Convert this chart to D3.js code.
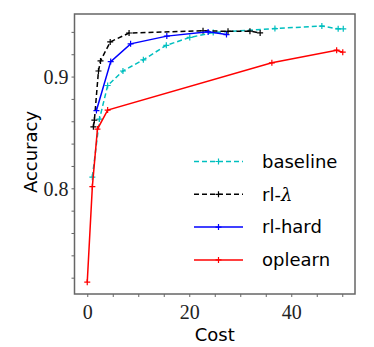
<!DOCTYPE html>
<html>
<meta charset="utf-8">
<style>
  body { margin: 0; background: #fff; }
</style>
<script src="https://d3js.org/d3.v7.min.js"></script>
<body>
<div id="chart"></div>
<script>

// data: [cost, accuracy]
var baseline = [
  [1.0, 0.810], [2.4, 0.862], [4.0, 0.892], [7.0, 0.905], [11.0, 0.915],
  [15.5, 0.928], [20.1, 0.935], [24.7, 0.9394], [36.8, 0.943],
  [46.0, 0.9452], [49.2, 0.9427], [50.2, 0.9427]
];
var rlLambda = [
  [1.2, 0.855], [1.4, 0.861], [2.2, 0.905], [2.6, 0.914], [4.5, 0.931],
  [8.2, 0.939], [22.7, 0.941], [27.6, 0.9405], [31.9, 0.9406], [33.9, 0.9391]
];
var rlHard = [
  [1.8, 0.8696], [4.6, 0.9134], [8.5, 0.9293], [15.6, 0.9362],
  [23.7, 0.940], [27.3, 0.9376]
];
var oplearn = [
  [0.0, 0.716], [1.0, 0.8015], [2.0, 0.853], [4.0, 0.870],
  [36.2, 0.9123], [48.9, 0.9236], [50.1, 0.9218]
];

var seriesNames = ["baseline", "rl-λ", "rl-hard", "oplearn"];
var xTicks = [0, 20, 40];
var yTicks = [0.8, 0.9];

var series = [
  {name: seriesNames[0], data: baseline, color: "#00bfbf", dash: "5,3"},
  {name: seriesNames[1], data: rlLambda, color: "#000000", dash: "5,3"},
  {name: seriesNames[2], data: rlHard, color: "#0000ff", dash: null},
  {name: seriesNames[3], data: oplearn, color: "#ff0000", dash: null}
];

var W = 374, H = 347;
var box = {left: 74.5, right: 355, top: 14, bottom: 294};

var svg = d3.select("#chart").append("svg")
  .attr("width", W).attr("height", H);

var x = d3.scaleLinear().domain([-2.5, 52.5]).range([box.left, box.right]);
var y = d3.scaleLinear().domain([0.7054, 0.956]).range([box.bottom, box.top]);

var frameColor = "#666";

// x axis
var xAxis = svg.append("g")
  .attr("transform", "translate(0," + box.bottom + ")")
  .call(d3.axisBottom(x).tickValues(d3.range(0, 51, 5)).tickSize(3)
    .tickFormat(function(d) { return xTicks.indexOf(d) >= 0 ? d : ""; }));
xAxis.select(".domain").remove();
xAxis.selectAll("line").attr("stroke", frameColor);
xAxis.selectAll("text")
  .attr("font-family", "Liberation Serif, serif")
  .attr("font-size", 20).attr("fill", "#222").attr("dy", "0.95em");

// y axis
var yAxis = svg.append("g")
  .attr("transform", "translate(" + box.left + ",0)")
  .call(d3.axisLeft(y).tickValues(d3.range(0.72, 0.955, 0.02).map(function(v) { return +v.toFixed(2); })).tickSize(3)
    .tickFormat(function(d) { return yTicks.indexOf(d) >= 0 ? d.toFixed(1) : ""; }));
yAxis.select(".domain").remove();
yAxis.selectAll("line").attr("stroke", frameColor);
yAxis.selectAll("text")
  .attr("font-family", "Liberation Serif, serif")
  .attr("font-size", 20).attr("fill", "#222").attr("dy", "0.35em").attr("x", -6);

// frame
svg.append("rect")
  .attr("x", box.left).attr("y", box.top)
  .attr("width", box.right - box.left).attr("height", box.bottom - box.top)
  .attr("fill", "none").attr("stroke", frameColor).attr("stroke-width", 1.5);

// axis labels
svg.append("text")
  .attr("x", (box.left + box.right) / 2).attr("y", 341)
  .attr("text-anchor", "middle")
  .attr("font-family", "DejaVu Sans, sans-serif").attr("font-size", 18)
  .text("Cost");
svg.append("text")
  .attr("transform", "translate(37,152) rotate(-90)")
  .attr("text-anchor", "middle")
  .attr("font-family", "DejaVu Sans, sans-serif").attr("font-size", 18)
  .text("Accuracy");

var line = d3.line()
  .x(function(d) { return x(d[0]); })
  .y(function(d) { return y(d[1]); });

function plus(g, px, py, color) {
  g.append("path")
    .attr("d", "M" + (px - 3) + "," + py + "h6M" + px + "," + (py - 3) + "v6")
    .attr("stroke", color).attr("stroke-width", 1.2);
}

var plot = svg.append("g");
series.forEach(function(s) {
  plot.append("path")
    .datum(s.data)
    .attr("d", line)
    .attr("fill", "none")
    .attr("stroke", s.color)
    .attr("stroke-width", 1.5)
    .attr("stroke-dasharray", s.dash);
  s.data.forEach(function(d) { plus(plot, x(d[0]), y(d[1]), s.color); });
});

// legend
var legend = svg.append("g");
series.forEach(function(s, i) {
  var ly = 161.5 + i * 32.8;
  legend.append("line")
    .attr("x1", 194).attr("x2", 243).attr("y1", ly).attr("y2", ly)
    .attr("stroke", s.color).attr("stroke-width", 1.5)
    .attr("stroke-dasharray", s.dash);
  plus(legend, 218.5, ly, s.color);
  var t = legend.append("text")
    .attr("x", 262).attr("y", ly).attr("dy", "0.35em")
    .attr("font-family", "DejaVu Sans, sans-serif").attr("font-size", 18);
  if (s.name === "rl-λ") {
    t.append("tspan").text("rl-");
    t.append("tspan").attr("font-family", "DejaVu Serif, serif").attr("font-style", "italic").text("λ");
  } else {
    t.text(s.name);
  }
});

</script>
</body>
</html>
